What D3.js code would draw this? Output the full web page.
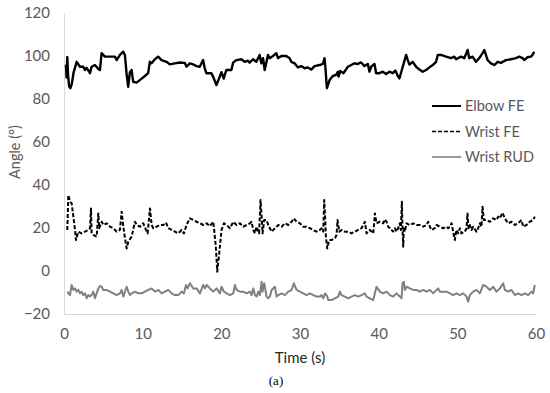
<!DOCTYPE html>
<html>
<head>
<meta charset="utf-8">
<script src="https://cdn.jsdelivr.net/npm/d3@7"></script>
<style>
  body { margin: 0; background: #fff; }
  text { font-family: Lato, "Open Sans", sans-serif; fill: #595959; }
</style>
</head>
<body>
<div id="viz"></div>
<script>
// [time (s), angle (deg)]
var elbowFE = [[0.25,96],[0.32,90],[0.42,99.5],[0.52,91],[0.65,86],[0.8,85],[1.0,87],[1.2,92],[1.61,97.3],[2.03,95],[2.45,95],[2.66,93.5],[2.88,94.5],[3.30,92],[3.51,95],[3.93,95.8],[4.36,94],[4.57,93.5],[4.78,101.3],[5.20,99.7],[6.47,99.7],[6.69,98.1],[7.11,100.5],[7.53,102],[7.74,100.5],[7.95,92],[8.16,85.7],[8.38,92.5],[8.59,93.5],[8.80,88],[9.22,87.6],[9.64,88.8],[10.28,90.7],[10.70,92],[10.91,97.3],[11.13,96.6],[11.55,98.5],[11.97,99.7],[12.40,98.1],[13.03,97.3],[13.45,96.1],[14.09,96.6],[14.72,97],[15.36,96.8],[15.57,95],[15.99,96.6],[16.41,96.1],[16.84,95.3],[17.26,95],[17.68,98.1],[17.89,94.3],[18.10,92],[18.74,92],[18.95,90.4],[19.38,86.5],[19.80,90.4],[20.01,92.5],[20.30,89.5],
  [20.43,91.2],[20.65,93.5],[21.28,93.5],[21.49,96.9],[21.91,98.1],[22.55,98.5],[22.97,97.3],[23.39,97.8],[23.60,96.9],[24.03,98.5],[24.45,97.3],[24.87,100.5],[25.08,96.6],[25.30,99],[25.51,93.5],[25.93,100.5],[26.14,99],[26.57,100],[26.99,101.3],[27.20,99],[27.62,100],[28.26,100],[28.68,99],[28.89,97.3],[29.31,96.6],[29.74,94.7],[30.16,95.3],[30.58,94.3],[31.00,94.7],[31.43,93.7],[31.85,95.3],[32.49,95.8],[32.91,96.3],[33.12,99],[33.25,93.5],[33.42,85],[33.76,88.8],[34.18,90.7],[34.60,91.2],[34.81,92.7],[34.90,90.4],[35.11,93],[35.53,92],[36.08,95],[36.51,95.8],[36.93,96.6],[37.35,96.3],[37.77,97],[38.20,95.3],[38.62,96.3],[38.83,92.7],[39.05,95],[39.47,96.3],[39.68,92],[40.10,92],[40.52,92.7],
  [40.95,91.6],[41.37,92.7],[41.79,92],[42.13,93.2],[42.43,90.7],[42.64,89.6],[43.06,95],[43.49,100.5],[43.70,98.1],[43.91,96],[44.33,97.3],[44.76,95],[45.18,93.7],[45.60,92.7],[46.03,93.5],[46.45,94.7],[46.87,95.8],[47.30,97.3],[47.51,100.5],[47.93,100.5],[48.57,99.7],[49.20,99],[49.62,99.7],[49.83,98.5],[50.47,99.7],[50.89,99],[51.31,102.8],[51.52,99],[51.94,99.7],[52.37,97.3],[52.79,99],[53.21,101.3],[53.43,102.8],[53.85,98.1],[54.27,96.6],[54.70,95.8],[55.12,97.3],[55.54,96.8],[56.18,98.1],[56.81,98.5],[57.45,99],[57.87,99.7],[58.29,99],[58.50,98.1],[58.92,99.4],[59.35,99.7],[59.56,100.5],[59.77,102]];

var wristFE = [[0.42,19.1],[0.55,35.3],[0.76,32.2],[0.97,31.5],[1.19,25.3],[1.40,19.1],[1.52,14.4],[1.82,18.3],[2.24,17.5],[2.67,18.3],[3.09,19.1],[3.30,19.9],[3.43,29.1],[3.51,17.5],[3.73,16.8],[4.15,16.0],[4.36,26.8],[4.48,19.9],[4.79,22.9],[5.00,21.4],[5.42,22.2],[5.84,20.6],[6.27,19.9],[6.69,18.3],[7.11,19.1],[7.33,27.6],[7.54,20.6],[7.75,15.2],[7.96,10.5],[8.17,13.6],[8.60,16.0],[9.02,22.9],[9.24,21.4],[9.66,20.6],[10.08,22.2],[10.42,19.1],[10.63,17.5],[10.93,29.1],[11.14,21.4],[11.35,19.9],[11.78,20.6],[12.20,21.4],[12.62,21.4],[12.96,22.5],[13.26,19.9],[13.68,19.1],[14.10,18.3],[14.53,17.5],[14.95,19.1],[15.25,17.5],[15.57,21.4],[16.01,24.5],[16.43,23.7],[16.86,22.9],[17.28,22.2],[17.70,21.4],[18.13,22.2],[18.55,20.9],[18.98,22.9],[19.09,19.1],[19.30,11.3],[19.48,-0.3],[19.73,8.2],[20.03,19.1],[20.33,22.2],
  [20.67,21.4],[21.09,19.9],[21.52,22.9],[21.94,21.4],[22.36,22.2],[22.79,20.6],[23.21,21.4],[23.63,22.2],[23.84,22.9],[24.06,19.1],[24.27,17.5],[24.48,20.6],[24.80,17.5],[24.98,33.0],[25.12,25.3],[25.24,17.5],[25.45,23.7],[25.75,23.7],[25.96,21.4],[26.39,18.3],[26.81,19.9],[27.24,21.4],[27.66,20.6],[28.08,22.2],[28.51,21.4],[28.93,22.9],[29.22,24.5],[29.56,22.9],[29.98,22.2],[30.41,20.6],[30.83,20.6],[31.26,19.9],[31.68,19.1],[32.10,18.3],[32.53,19.1],[32.74,19.9],[32.95,18.3],[33.08,33.0],[33.21,23.7],[33.29,16.0],[33.46,10.5],[33.71,14.4],[34.01,14.4],[34.44,15.2],[34.65,16.8],[34.77,23.7],[34.99,18.3],[35.28,19.1],[35.70,18.3],[36.13,18.3],[36.55,17.5],[36.98,18.3],[37.40,19.1],[37.82,19.9],[38.25,22.9],[38.46,17.5],[38.88,19.1],[39.31,17.5],[39.52,26.8],[39.73,22.2],[40.15,22.9],
  [40.58,22.2],[40.79,24.0],[41.00,22.9],[41.21,20.6],[41.42,19.9],[41.63,19.1],[41.85,18.3],[42.06,19.9],[42.27,18.3],[42.48,19.9],[42.69,22.2],[42.82,19.1],[42.95,32.2],[43.03,19.9],[43.12,11.3],[43.20,20.6],[43.33,18.3],[43.54,22.2],[43.96,21.4],[44.39,22.2],[44.81,21.4],[45.23,21.4],[45.66,20.6],[46.08,21.4],[46.29,22.9],[46.51,20.6],[46.72,19.1],[47.14,19.9],[47.36,21.4],[47.78,20.6],[48.20,19.9],[48.62,20.6],[48.84,19.9],[49.05,20.6],[49.26,22.2],[49.47,18.3],[49.68,14.4],[49.89,19.1],[50.11,17.5],[50.32,19.9],[50.53,17.5],[50.95,18.3],[51.17,19.9],[51.29,26.8],[51.42,19.9],[51.59,21.4],[51.80,19.1],[52.01,20.6],[52.44,18.3],[52.65,19.9],[52.86,22.2],[53.07,20.6],[53.20,29.9],[53.37,23.7],[53.71,23.7],[54.13,22.9],[54.56,24.5],[54.98,23.7],[55.19,25.3],[55.40,24.5],[55.74,27.1],[56.04,24.5],[56.46,22.2],[56.89,22.9],[57.31,21.4],[57.73,22.2],[58.16,23.7],[58.37,20.6],[58.79,21.4],[59.21,22.9],[59.64,23.7],[59.85,25.3]];

var wristRUD = [[0.42,-9.6],[0.76,-11.2],[0.97,-6.5],[1.19,-8.8],[1.40,-8.1],[1.61,-9.6],[1.82,-8.8],[2.03,-10.4],[2.24,-9.6],[2.46,-11.2],[2.67,-10.4],[2.88,-12.7],[3.09,-11.2],[3.30,-11.9],[3.51,-11.2],[3.73,-9.6],[3.94,-12.7],[4.15,-10.4],[4.36,-8.1],[4.57,-7.0],[4.79,-7.3],[5.00,-8.8],[5.42,-8.8],[5.84,-9.6],[6.27,-10.4],[6.69,-11.2],[7.11,-10.4],[7.33,-8.8],[7.54,-11.9],[7.75,-9.6],[7.96,-7.3],[8.17,-9.6],[8.39,-11.2],[8.60,-10.4],[9.02,-9.6],[9.45,-10.4],[9.87,-10.4],[10.29,-9.6],[10.72,-8.8],[11.14,-8.1],[11.56,-9.6],[11.99,-8.8],[12.41,-10.4],[12.83,-9.6],[13.26,-8.8],[13.68,-10.4],[14.10,-11.2],[14.53,-11.2],[14.95,-9.6],[15.25,-10.4],[15.50,-6.5],[15.71,-8.1],[16.01,-5.7],[16.43,-8.1],[16.86,-8.1],[17.28,-10.4],[17.70,-6.5],[17.92,-8.1],[18.13,-6.5],[18.55,-8.1],[18.98,-9.6],[19.40,-8.1],[19.82,-10.4],[20.03,-7.3],[20.33,-9.6],
  [20.67,-10.4],[21.09,-11.2],[21.52,-10.4],[21.73,-6.5],[21.94,-8.8],[22.36,-9.6],[22.79,-9.6],[23.21,-10.4],[23.63,-9.6],[23.84,-11.2],[24.06,-8.1],[24.27,-11.2],[24.48,-11.9],[24.69,-9.6],[24.90,-11.2],[25.12,-5.0],[25.24,-9.6],[25.45,-5.7],[25.75,-11.9],[25.96,-12.7],[26.18,-11.9],[26.39,-8.8],[26.81,-7.3],[27.02,-11.9],[27.24,-11.2],[27.66,-10.4],[28.08,-11.2],[28.51,-9.6],[28.93,-8.8],[29.22,-5.7],[29.56,-8.8],[29.98,-9.6],[30.41,-10.4],[30.83,-11.2],[31.26,-10.4],[31.68,-11.2],[32.10,-11.9],[32.53,-11.9],[32.74,-11.2],[32.95,-12.7],[33.21,-10.4],[33.46,-11.9],[33.59,-13.5],[34.01,-13.5],[34.44,-12.7],[34.86,-11.9],[35.07,-9.6],[35.28,-11.2],[35.70,-11.9],[36.13,-12.7],[36.55,-11.9],[36.98,-11.2],[37.40,-11.9],[37.82,-11.2],[38.25,-10.4],[38.46,-11.9],[38.88,-12.7],[39.31,-13.5],[39.52,-10.4],[39.73,-7.3],[40.15,-9.6],[40.58,-10.4],
  [41.00,-9.6],[41.42,-11.2],[41.85,-11.9],[42.27,-10.4],[42.69,-11.9],[42.91,-12.7],[43.03,-5.7],[43.20,-5.0],[43.33,-8.8],[43.54,-7.3],[43.96,-8.1],[44.39,-8.8],[44.81,-8.8],[45.23,-9.6],[45.66,-8.8],[46.08,-9.6],[46.51,-8.8],[46.93,-10.4],[47.36,-8.8],[47.57,-8.1],[47.78,-9.6],[48.20,-9.6],[48.62,-9.6],[49.05,-10.4],[49.47,-11.2],[49.89,-10.4],[50.32,-11.2],[50.74,-10.4],[51.17,-11.9],[51.38,-14.3],[51.59,-11.2],[52.01,-9.6],[52.44,-8.8],[52.86,-10.4],[53.29,-6.5],[53.71,-7.3],[54.13,-8.8],[54.56,-7.3],[54.98,-9.6],[55.40,-8.1],[55.83,-5.7],[56.04,-8.8],[56.46,-9.6],[56.89,-8.8],[57.31,-11.2],[57.73,-10.4],[58.16,-11.2],[58.58,-10.4],[59.00,-11.2],[59.43,-9.6],[59.64,-10.4],[59.85,-6.5]];

var xTicks = [0, 10, 20, 30, 40, 50, 60];
var yTicks = [-20, 0, 20, 40, 60, 80, 100, 120];
var seriesNames = ["Elbow FE", "Wrist FE", "Wrist RUD"];

var svg = d3.select("#viz")
  .append("svg")
  .attr("width", 550)
  .attr("height", 393);

var x = d3.scaleLinear().domain([0, 60]).range([64, 536]);
var y = d3.scaleLinear().domain([-20, 120]).range([314, 13]);

var styles = [
  {data: elbowFE, color: "#000", width: 2.4, dash: null},
  {data: wristFE, color: "#000", width: 2, dash: "4,2"},
  {data: wristRUD, color: "#808080", width: 2, dash: null}
];

// axes
var xAxis = svg.append("g")
  .attr("transform", "translate(0," + y(-20) + ")")
  .call(d3.axisBottom(x).tickValues(xTicks).tickSize(0).tickPadding(14));
var yAxis = svg.append("g")
  .attr("transform", "translate(" + x(0) + ",0)")
  .call(d3.axisLeft(y).tickValues(yTicks).tickSize(0).tickPadding(14));

[xAxis, yAxis].forEach(function(g) {
  g.select(".domain").attr("stroke", "#d9d9d9").attr("stroke-width", 1);
  g.selectAll("text").style("font-size", "15px").attr("fill", "#595959");
});

// lines
var line = d3.line()
  .x(function(d) { return x(d[0]); })
  .y(function(d) { return y(d[1]); });

styles.slice().reverse().forEach(function(s) {
  svg.append("path")
    .datum(s.data)
    .attr("fill", "none")
    .attr("stroke", s.color)
    .attr("stroke-width", s.width)
    .attr("stroke-linejoin", "round")
    .attr("stroke-dasharray", s.dash)
    .attr("d", line);
});

// legend
var legend = svg.append("g");
seriesNames.forEach(function(name, i) {
  var ly = 106 + i * 25.5;
  legend.append("line")
    .attr("x1", 432).attr("x2", 461)
    .attr("y1", ly).attr("y2", ly)
    .attr("stroke", styles[i].color)
    .attr("stroke-width", i == 0 ? 2 : 1.6)
    .attr("stroke-dasharray", styles[i].dash);
  legend.append("text")
    .attr("x", 465).attr("y", ly)
    .attr("dy", "0.35em")
    .style("font-size", "14.5px")
    .text(name);
});

// titles
svg.append("text")
  .attr("transform", "translate(15,152) rotate(-90)")
  .attr("text-anchor", "middle")
  .attr("dy", "0.35em")
  .style("font-size", "14.5px")
  .text("Angle (°)");

svg.append("text")
  .attr("x", 300).attr("y", 358)
  .attr("text-anchor", "middle")
  .attr("dy", "0.35em")
  .style("font-size", "15px")
  .style("fill", "#262626")
  .text("Time (s)");

svg.append("text")
  .attr("x", 276).attr("y", 380)
  .attr("text-anchor", "middle")
  .attr("dy", "0.35em")
  .style("font-family", "'Liberation Serif', 'DejaVu Serif', serif")
  .style("font-size", "13px")
  .style("fill", "#000")
  .text("(a)");
</script>
</body>
</html>
